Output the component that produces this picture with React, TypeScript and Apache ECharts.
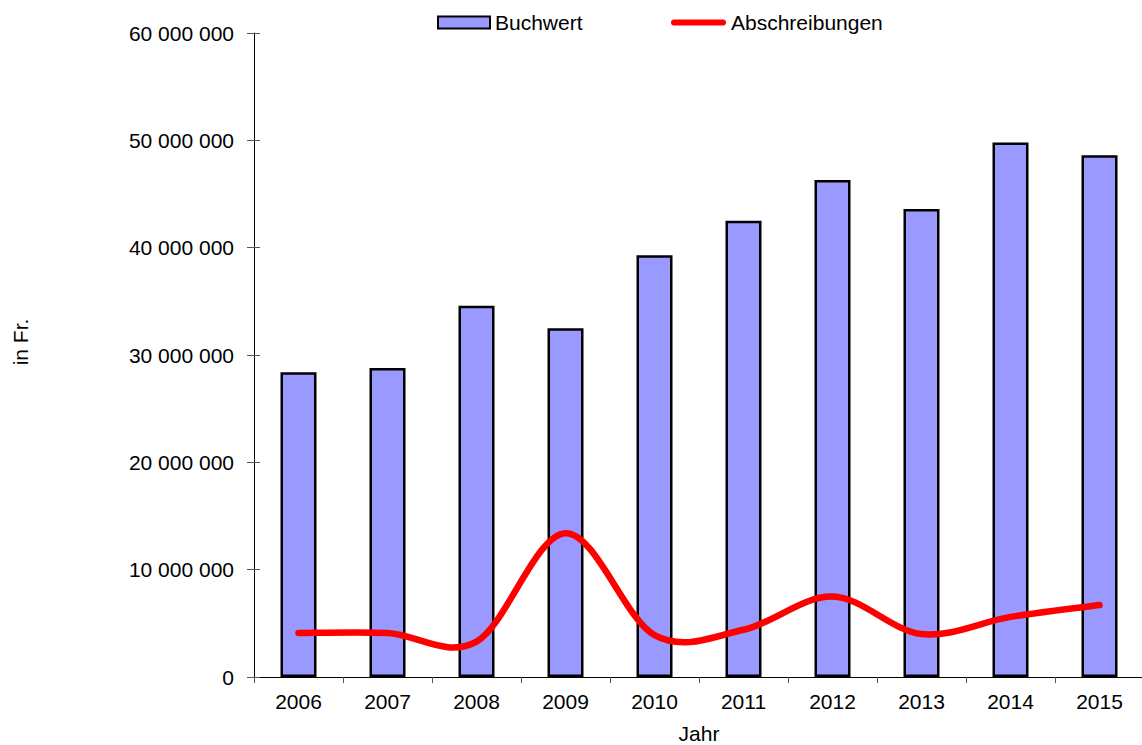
import React, { useEffect, useRef } from "react";
import * as echarts from "echarts";

const categories = ["2006", "2007", "2008", "2009", "2010", "2011", "2012", "2013", "2014", "2015"];
const buchwert = [28400000, 28800000, 34600000, 32500000, 39300000, 42500000, 46300000, 43600000, 49800000, 48600000];
const abschreibungen = [4100000, 4100000, 3300000, 13400000, 3900000, 4400000, 7500000, 4000000, 5600000, 6700000];
const yTicks = { min: 0, max: 60000000, interval: 10000000 };

const FONT = "'Liberation Sans', Arial, sans-serif";
const FS = 21;

const fmt = (v: number) => String(Math.round(v)).replace(/\B(?=(\d{3})+(?!\d))/g, " ");

// Excel-like smoothed line (Catmull-Rom through the data points, positions from the axes)
function smoothPath(pts: number[][]): string {
  const n = pts.length;
  if (n === 0) return "";
  let d = `M${pts[0][0]},${pts[0][1]}`;
  for (let i = 0; i < n - 1; i++) {
    const p0 = pts[Math.max(0, i - 1)];
    const p1 = pts[i];
    const p2 = pts[i + 1];
    const p3 = pts[Math.min(n - 1, i + 2)];
    const c1x = p1[0] + (p2[0] - p0[0]) / 6;
    const c1y = p1[1] + (p2[1] - p0[1]) / 6;
    const c2x = p2[0] - (p3[0] - p1[0]) / 6;
    const c2y = p2[1] - (p3[1] - p1[1]) / 6;
    d += ` C${c1x},${c1y} ${c2x},${c2y} ${p2[0]},${p2[1]}`;
  }
  return d;
}

export default function App() {
  const ref = useRef<HTMLDivElement>(null);
  useEffect(() => {
    if (!ref.current) return;
    const chart = echarts.init(ref.current, null, { renderer: "svg" });
    const axisText = { fontFamily: FONT, fontSize: FS, color: "#000" };
    chart.setOption({
      animation: false,
      backgroundColor: "#ffffff",
      textStyle: { fontFamily: FONT, color: "#000" },
      grid: { left: 254, top: 33, width: 890, height: 644, containLabel: false, outerBoundsMode: "none" },
      legend: [
        {
          left: 437,
          top: 12,
          padding: 0,
          itemWidth: 52,
          itemHeight: 12,
          textStyle: axisText,
          data: [{ name: "Buchwert", icon: "rect" }],
        },
        {
          left: 671,
          top: 12,
          padding: 0,
          itemWidth: 55,
          itemHeight: 6,
          textStyle: axisText,
          data: [
            {
              name: "Abschreibungen",
              icon: "path://M3,0H52A3,3,0,0,1,52,6H3A3,3,0,0,1,3,0Z",
              itemStyle: { color: "#FF0000", borderWidth: 0 },
            },
          ],
        },
      ],
      xAxis: {
        type: "category",
        data: categories,
        boundaryGap: true,
        axisLine: { show: true, lineStyle: { color: "#000", width: 1 } },
        axisTick: { show: true, inside: false, length: 6, lineStyle: { color: "#555" } },
        axisLabel: { ...axisText, margin: 14 },
        splitLine: { show: false },
        name: "Jahr",
        nameLocation: "middle",
        nameGap: 46,
        nameTextStyle: axisText,
      },
      yAxis: [
        {
          type: "value",
          min: yTicks.min,
          max: yTicks.max,
          interval: yTicks.interval,
          axisLine: { show: true, lineStyle: { color: "#000", width: 1 } },
          axisTick: { show: true, inside: false, length: 7, lineStyle: { color: "#555" } },
          axisLabel: { ...axisText, margin: 20, formatter: fmt },
          splitLine: { show: false },
        },
        {
          type: "value",
          position: "left",
          min: yTicks.min,
          max: yTicks.max,
          interval: yTicks.interval,
          axisLine: { show: false },
          axisTick: { show: true, inside: true, length: 6, lineStyle: { color: "#555" } },
          axisLabel: { show: false },
          splitLine: { show: false },
        },
      ],
      graphic: [
        {
          type: "text",
          x: 20,
          y: 342,
          rotation: Math.PI / 2,
          style: {
            text: "in Fr.",
            fontFamily: FONT,
            fontSize: FS,
            fill: "#000",
            align: "center",
            verticalAlign: "middle",
          },
        },
      ],
      series: [
        {
          name: "Buchwert",
          type: "bar",
          data: buchwert,
          barWidth: 36,
          itemStyle: { color: "#9999FF", borderColor: "#000", borderWidth: 2.5 },
          z: 2,
        },
        {
          name: "Abschreibungen",
          type: "custom",
          data: abschreibungen.map((v, i) => [i, v]),
          encode: { x: 0, y: 1 },
          itemStyle: { color: "#FF0000" },
          silent: true,
          z: 3,
          renderItem: (params: any, api: any) => {
            if (params.dataIndex !== 0) return null;
            const pts = abschreibungen.map((v, i) => api.coord([i, v]));
            return {
              type: "path",
              shape: { pathData: smoothPath(pts) },
              style: {
                stroke: "#FF0000",
                lineWidth: 6.5,
                fill: "none",
                lineCap: "round",
                lineJoin: "round",
              },
            };
          },
        },
      ],
    });
    return () => chart.dispose();
  }, []);
  return (
    <div
      ref={ref}
      style={{ position: "fixed", left: 0, top: 0, width: 1142, height: 745, background: "#fff" }}
    />
  );
}
